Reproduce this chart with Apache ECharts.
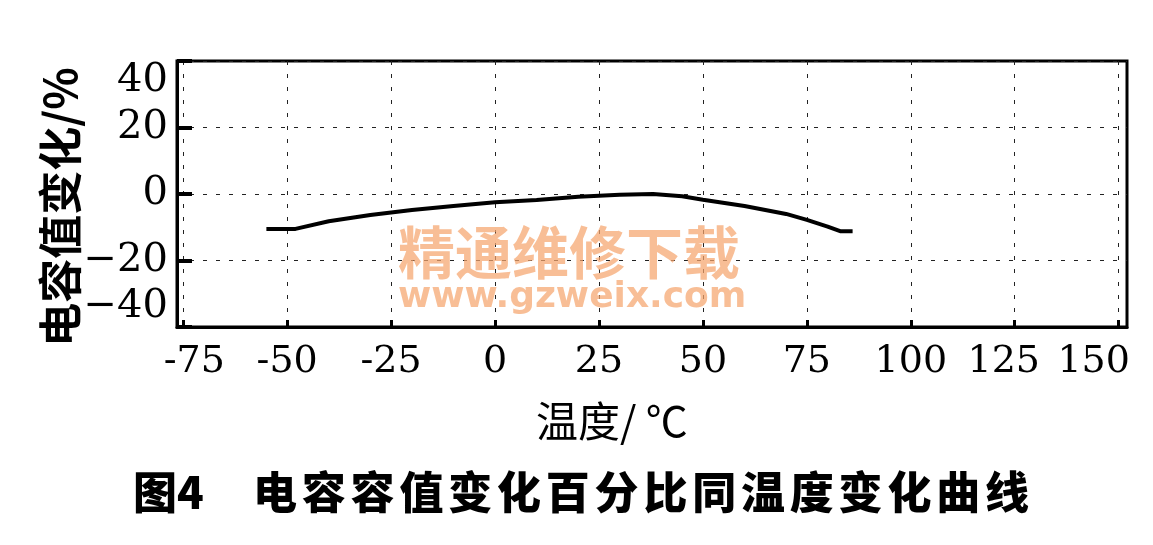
<!DOCTYPE html>
<html>
<head>
<meta charset="utf-8">
<script src="https://cdn.jsdelivr.net/npm/echarts@6/dist/echarts.min.js"></script>
<style>html,body{margin:0;padding:0;background:#fff}#c{width:1153px;height:545px}</style>
</head>
<body>
<div id="c"></div>
<script>
var temps = [-55, -48, -40, -30, -20, -10, 0, 10, 20, 30, 38, 45, 50, 60, 70, 75, 80, 83, 86];
var changes = [-10.5, -10.5, -8.2, -6.3, -4.8, -3.6, -2.5, -1.8, -0.8, -0.2, 0, -0.7, -1.7, -3.6, -6, -7.8, -9.8, -11.2, -11.2];
var xTicks = [-75, -50, -25, 0, 25, 50, 75, 100, 125, 150];
var yTicks = [-40, -20, 0, 20, 40];
var yAxisTitle = '电容值变化/%';
var xAxisTitle = '温度/ ℃';
var captionLead = '图4';
var captionText = '电容容值变化百分比同温度变化曲线';

var chart = echarts.init(document.getElementById('c'));
var numFont = '"DejaVu Serif", serif';
var cjk = '"Noto Sans CJK SC", sans-serif';
var wm = 'rgba(245,165,110,0.72)';

var graphics = [
  {type:'text', left: 398, top: 224, z: 10, style:{text:'精通维修下载', font:'bold 57px "Noto Sans CJK SC"', fill: wm}},
  {type:'text', left: 398, top: 280, z: 10, style:{text:'www.gzweix.com', font:'bold 36px "DejaVu Sans"', fill: wm}},
  {type:'text', left: 536, top: 400, style:{text:xAxisTitle, font:'42px ' + cjk, fill:'#000'}},
  {type:'text', x: 60, y: 207, rotation: Math.PI/2, style:{text:yAxisTitle, font:'bold 44px ' + cjk, fill:'#000', align:'center', verticalAlign:'middle'}},
  {type:'text', left: 133, top: 470, style:{text:captionLead, font:'900 44px ' + cjk, fill:'#000'}}
];
captionText.split('').forEach(function(ch, i){
  graphics.push({type:'text', left: 253 + i*48.8, top: 470, style:{text:ch, font:'900 44px ' + cjk, fill:'#000'}});
});

var lbl = {fontFamily: numFont, fontSize: 38, color: '#000'};
chart.setOption({
  animation: false,
  backgroundColor: '#fff',
  grid: {left: 177, right: 26, top: 61, bottom: 218, outerBoundsMode: 'none', containLabel: false,
    show: true, borderColor: '#000', borderWidth: 3, backgroundColor: 'transparent'},
  xAxis: {
    type: 'value', min: -76.5, max: 152,
    axisLine: {show: true, onZero: false, lineStyle: {color: '#000', width: 3}},
    axisTick: {show: true, inside: true, length: 7, customValues: xTicks, lineStyle: {color: '#000', width: 3}},
    axisLabel: {color: '#000', fontFamily: numFont, fontSize: 38, margin: 16, customValues: xTicks,
      showMinLabel: true, showMaxLabel: true, hideOverlap: false,
      formatter: function(v){
        if (v === xTicks[0]) return '{a|' + v + '}';
        if (v === xTicks[xTicks.length-2]) return '{b|' + v + '}';
        if (v === xTicks[xTicks.length-1]) return '{c|' + v + '}';
        return String(v);
      },
      rich: {
        a: Object.assign({padding: [0, 0, 0, 22]}, lbl),
        b: Object.assign({padding: [0, 22, 0, 0]}, lbl),
        c: Object.assign({padding: [0, 50, 0, 0]}, lbl)
      }
    },
    splitLine: {show: true, lineStyle: {color: '#222', width: 1, type: [4, 9]}}
  },
  yAxis: {
    type: 'value', min: yTicks[0], max: yTicks[yTicks.length-1], interval: 20,
    axisLine: {show: true, onZero: false, lineStyle: {color: '#000', width: 3}},
    axisTick: {show: true, inside: true, length: 15, lineStyle: {color: '#000', width: 4}},
    axisLabel: {color: '#000', fontFamily: numFont, fontSize: 40, margin: 9,
      formatter: function(v){ return String(v).replace('-', '\u2212'); },
      verticalAlignMaxLabel: 'top', verticalAlignMinLabel: 'bottom'},
    splitLine: {show: true, lineStyle: {color: '#222', width: 1, type: [4, 9]}}
  },
  series: [{
    type: 'line',
    data: temps.map(function(t, i){ return [t, changes[i]]; }),
    showSymbol: false,
    lineStyle: {color: '#000', width: 4},
    z: 5
  }],
  graphic: graphics
});
</script>
</body>
</html>
